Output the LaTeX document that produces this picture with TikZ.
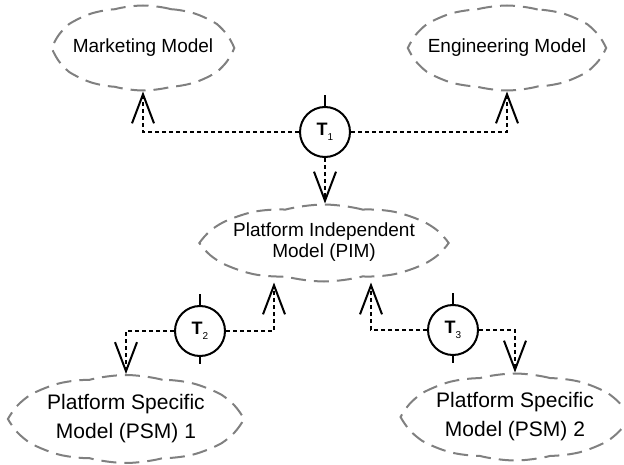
\documentclass[tikz,border=0pt]{standalone}
\usepackage{fontspec}
\setmainfont{Liberation Sans}
\usetikzlibrary{shapes.symbols,arrows.meta}

\newcommand{\tname}[1]{\textbf{T}\raisebox{-5pt}{\fontsize{10}{10}\selectfont #1}}
\newcommand{\ctext}[1]{\makebox[0pt]{\smash{\raisebox{-4pt}{\begin{tabular}{@{}c@{}}#1\end{tabular}}}}}

\begin{document}
\begin{tikzpicture}[x=1pt,y=-1pt,
	model/.style={cloud,cloud puffs=10,cloud puff arc=30,cloud ignores aspect,draw=black!50,line width=2pt,dash pattern=on 15pt off 8pt,inner sep=0pt},
	trans/.style={circle,draw,line width=2pt,minimum size=50pt,inner sep=0pt,font=\fontsize{18}{18}\selectfont},
	conn/.style={line width=2pt,dash pattern=on 4pt off 3pt,-{Straight Barb[length=29pt,width=22pt,line width=2pt]}},
	pin/.style={line width=2pt}]
				\useasboundingbox (0,0) rectangle (624,465);
				% models
				\node[model,minimum width=177pt,minimum height=85pt,font=\fontsize{19}{22}\selectfont] (mkt) at (143,48) {\ctext{Marketing Model}};
				\node[model,minimum width=192pt,minimum height=85pt,font=\fontsize{19}{22}\selectfont] (eng) at (507,48) {\ctext{Engineering Model}};
				\node[model,minimum width=240pt,minimum height=77pt,font=\fontsize{19}{21.5}\selectfont] (pim) at (324,243) {\ctext{Platform Independent\\Model (PIM)}};
				\node[model,minimum width=228pt,minimum height=88pt,font=\fontsize{21}{29}\selectfont] (psmA) at (126,419) {\ctext{Platform Specific\\Model (PSM) 1}};
				\node[model,minimum width=221pt,minimum height=87pt,font=\fontsize{21}{29}\selectfont] (psmB) at (515,417) {\ctext{Platform Specific\\Model (PSM) 2}};
				% transformations
				\node[trans] (t1) at (325,132) {\tname{1}};
				\node[trans] (t2) at (200,331) {\tname{2}};
				\node[trans] (t3) at (453,330) {\tname{3}};
				\draw[pin] (t1.north) -- ++(0,-11);
				\draw[pin] (t2.north) -- ++(0,-11);
				\draw[pin] (t2.south) -- ++(0,7);
				\draw[pin] (t3.north) -- ++(0,-11);
				\draw[pin] (t3.south) -- ++(0,7);
				% flows
				\draw[conn] (t1.west) -| (mkt.south);
				\draw[conn] (t1.east) -| (eng.south);
				\draw[conn] (t1.south) -- (t1.south |- pim.north);
				\draw[conn] (t2.west) -| (psmA.north);
				\draw[conn] (t2.east) -| ([xshift=-50pt]pim.south);
				\draw[conn] (t3.west) -| ([xshift=47pt]pim.south);
				\draw[conn] (t3.east) -| (psmB.north);
			\end{tikzpicture}
\end{document}
